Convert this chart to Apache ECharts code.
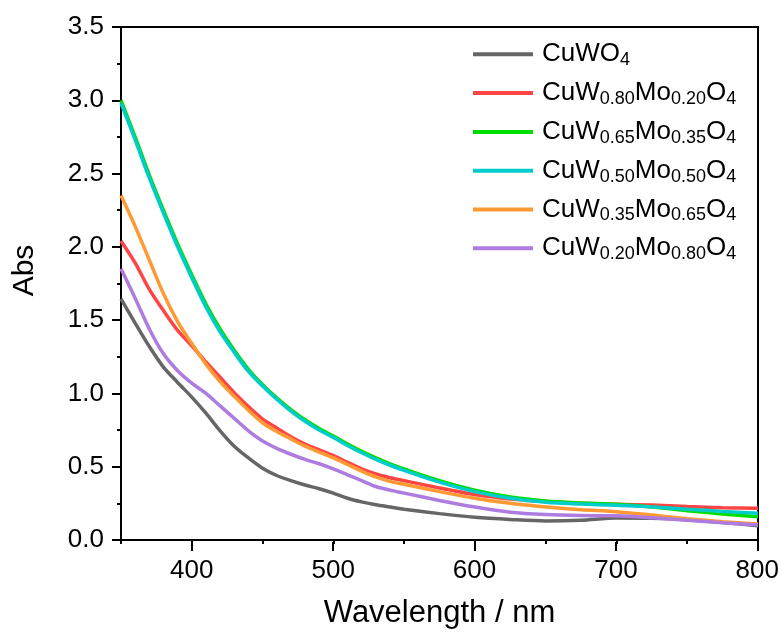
<!DOCTYPE html>
<html>
<head>
<meta charset="utf-8">
<script src="https://cdn.jsdelivr.net/npm/echarts@6/dist/echarts.min.js"></script>
<style>html,body{margin:0;padding:0;background:#fff}#c{width:782px;height:634px}</style>
</head>
<body>
<div id="c"></div>
<script>
var wavelength = [350,360,370,380,390,400,410,420,430,440,450,460,470,480,490,500,510,520,530,540,550,575,600,625,650,675,700,725,750,775,800];
var absCuWO4 = [1.645,1.48,1.32,1.18,1.075,0.975,0.865,0.745,0.64,0.56,0.49,0.44,0.405,0.375,0.35,0.32,0.285,0.26,0.24,0.225,0.21,0.18,0.155,0.14,0.13,0.135,0.15,0.148,0.138,0.12,0.098];
var absMo20 = [2.04,1.89,1.71,1.565,1.43,1.325,1.215,1.11,1.005,0.91,0.825,0.765,0.705,0.655,0.615,0.575,0.53,0.485,0.45,0.425,0.405,0.355,0.31,0.28,0.262,0.25,0.244,0.238,0.228,0.22,0.216];
var absMo35 = [3.00,2.75,2.49,2.25,2.02,1.81,1.61,1.44,1.295,1.165,1.06,0.97,0.89,0.82,0.76,0.71,0.655,0.605,0.56,0.52,0.485,0.405,0.34,0.293,0.266,0.253,0.244,0.225,0.20,0.178,0.158];
var absMo50 = [2.98,2.73,2.47,2.23,2.00,1.79,1.59,1.42,1.28,1.15,1.05,0.96,0.88,0.81,0.75,0.70,0.645,0.595,0.55,0.51,0.475,0.395,0.33,0.285,0.258,0.245,0.237,0.226,0.21,0.195,0.182];
var absMo65 = [2.35,2.14,1.91,1.68,1.49,1.34,1.20,1.08,0.98,0.885,0.80,0.74,0.69,0.64,0.60,0.56,0.515,0.47,0.43,0.40,0.38,0.33,0.285,0.25,0.225,0.207,0.193,0.17,0.145,0.125,0.109];
var absMo80 = [1.85,1.65,1.44,1.27,1.155,1.07,1.00,0.915,0.83,0.745,0.675,0.625,0.585,0.55,0.52,0.485,0.445,0.405,0.365,0.34,0.32,0.27,0.225,0.19,0.174,0.167,0.165,0.152,0.135,0.117,0.102];

var seriesNames = ['CuWO4','CuW0.80Mo0.20O4','CuW0.65Mo0.35O4','CuW0.50Mo0.50O4','CuW0.35Mo0.65O4','CuW0.20Mo0.80O4'];
var legendRich = [
  '{n|CuWO}{s|4}',
  '{n|CuW}{s|0.80}{n|Mo}{s|0.20}{n|O}{s|4}',
  '{n|CuW}{s|0.65}{n|Mo}{s|0.35}{n|O}{s|4}',
  '{n|CuW}{s|0.50}{n|Mo}{s|0.50}{n|O}{s|4}',
  '{n|CuW}{s|0.35}{n|Mo}{s|0.65}{n|O}{s|4}',
  '{n|CuW}{s|0.20}{n|Mo}{s|0.80}{n|O}{s|4}'
];
var seriesColors = ['#666666','#FF4444','#00DD00','#00CCCC','#FF9933','#AE7CE0'];
var seriesValues = [absCuWO4, absMo20, absMo35, absMo50, absMo65, absMo80];
var xTickLabels = [400,500,600,700,800];

var FONT = 'Liberation Sans, Arial, sans-serif';
var chart = echarts.init(document.getElementById('c'), null, {renderer:'canvas'});

var series = seriesNames.map(function(name, i){
  return {
    name: name, type: 'line', xAxisIndex: 0, yAxisIndex: 0,
    data: wavelength.map(function(w, j){ return [w, seriesValues[i][j]]; }),
    smooth: 0.3, symbol: 'none', showSymbol: false,
    lineStyle: {color: seriesColors[i], width: 3.5},
    itemStyle: {color: seriesColors[i]},
    z: 2 + i
  };
});

var plotLeft = 121, plotRight = 24, plotWidth = 782 - plotLeft - plotRight;
var majorLeft = plotLeft + (xTickLabels[0] - 350) * plotWidth / (800 - 350);

chart.setOption({
  animation: false,
  backgroundColor: '#fff',
  grid: [
    {left: plotLeft, right: plotRight, top: 27, bottom: 92, show: true, borderColor: '#000', borderWidth: 2, backgroundColor: 'transparent', containLabel: false},
    {left: majorLeft, right: plotRight, top: 27, bottom: 92, show: false, containLabel: false}
  ],
  legend: {
    orient: 'vertical', left: 473, top: 41.3, itemGap: 10.8, padding: 0,
    itemWidth: 60, itemHeight: 4, icon: 'rect',
    data: seriesNames.map(function(n, i){ return {name: n, itemStyle: {color: seriesColors[i]}}; }),
    formatter: function(name){ return legendRich[seriesNames.indexOf(name)]; },
    textStyle: {
      color: '#000', fontFamily: FONT, fontSize: 26, padding: [0,0,0,4],
      rich: {
        n: {fontSize: 26, lineHeight: 30, fontFamily: FONT, color: '#000'},
        s: {fontSize: 18, lineHeight: 12, verticalAlign: 'bottom', fontFamily: FONT, color: '#000'}
      }
    }
  },
  xAxis: [
    {
      type: 'value', gridIndex: 0, min: 350, max: 800, interval: 50,
      name: 'Wavelength / nm', nameLocation: 'middle', nameGap: 58,
      nameTextStyle: {fontSize: 31, fontFamily: FONT, color: '#000'},
      axisLine: {show: true, lineStyle: {color: '#000', width: 2}},
      axisTick: {show: true, inside: false, length: 4, lineStyle: {color: '#000', width: 2}},
      axisLabel: {show: false},
      splitLine: {show: false}
    },
    {
      type: 'value', gridIndex: 1, min: 400, max: 800, interval: 100,
      axisLine: {show: false},
      axisTick: {show: true, inside: false, length: 9, lineStyle: {color: '#000', width: 2}},
      axisLabel: {show: true, margin: 16, fontSize: 26, fontFamily: FONT, color: '#000',
        formatter: function(v){ return xTickLabels.indexOf(v) >= 0 ? String(v) : ''; }},
      splitLine: {show: false}
    }
  ],
  yAxis: [
    {
      type: 'value', gridIndex: 0, min: 0, max: 3.5, interval: 0.5,
      name: 'Abs', nameLocation: 'middle', nameGap: 81,
      nameTextStyle: {fontSize: 30, fontFamily: FONT, color: '#000', padding: [0,0,0,26]},
      axisLine: {show: true, lineStyle: {color: '#000', width: 2}},
      axisTick: {show: true, inside: false, length: 9, lineStyle: {color: '#000', width: 2}},
      minorTick: {show: true, splitNumber: 2, length: 4, lineStyle: {color: '#000', width: 2}},
      axisLabel: {show: true, margin: 17, fontSize: 26, fontFamily: FONT, color: '#000',
        formatter: function(v){ return v.toFixed(1); }},
      splitLine: {show: false}
    },
    {type: 'value', gridIndex: 1, min: 0, max: 3.5, show: false}
  ],
  series: series
});
</script>
</body>
</html>
